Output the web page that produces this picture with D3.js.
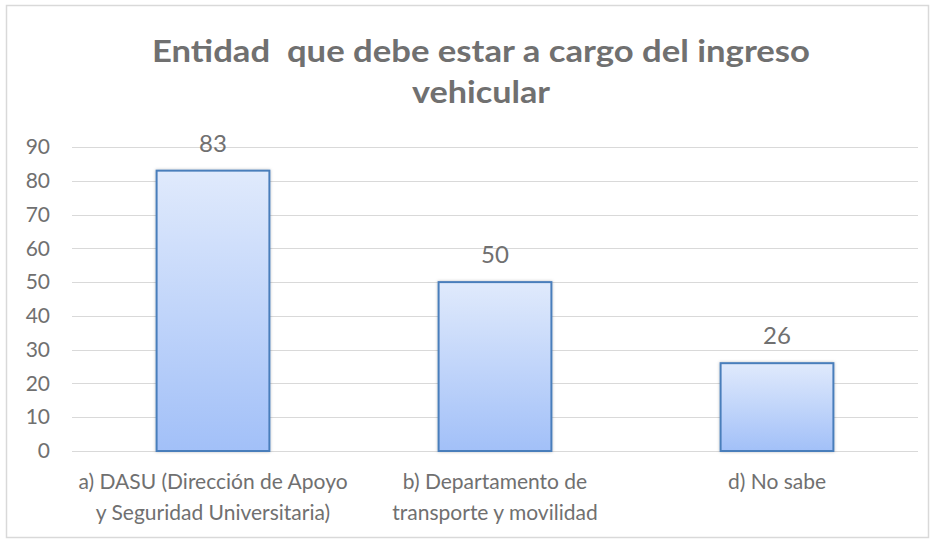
<!DOCTYPE html>
<html>
<head>
<meta charset="utf-8">
<script src="https://cdn.jsdelivr.net/npm/d3@7"></script>
<style>
  body { margin: 0; background: #fff; }
  text { font-family: Lato, "Open Sans", sans-serif; }
</style>
</head>
<body>
<div id="bar-chart"></div>
<script>
const categories = [
    ["a) DASU (Dirección de Apoyo", "y Seguridad Universitaria)"],
    ["b) Departamento de", "transporte y movilidad"],
    ["d) No sabe"]
];
const values = [83, 50, 26];
const yTicks = [0, 10, 20, 30, 40, 50, 60, 70, 80, 90];
const titleLines = ["Entidad  que debe estar a cargo del ingreso", "vehicular"];

const createBarChart = () => {
    const width = 935;
    const height = 542;
    const margin = { top: 147, right: 17, bottom: 91, left: 72 };
    const innerWidth = width - margin.left - margin.right;
    const innerHeight = height - margin.top - margin.bottom;
    const textColor = "#707070";

    const data = categories.map((c, i) => ({ key: i, lines: c, value: values[i] }));

    const svg = d3.select("#bar-chart")
        .append("svg")
        .attr("width", width)
        .attr("height", height);

    // gradient + soft shadow for the bars
    const defs = svg.append("defs");
    const grad = defs.append("linearGradient")
        .attr("id", "barGrad")
        .attr("x1", 0).attr("y1", 0).attr("x2", 0).attr("y2", 1);
    grad.append("stop").attr("offset", "0%").attr("stop-color", "#e0eafc");
    grad.append("stop").attr("offset", "100%").attr("stop-color", "#a2c0f8");
    const shadow = defs.append("filter").attr("id", "shadow")
        .attr("x", "-10%").attr("y", "-10%").attr("width", "120%").attr("height", "120%");
    shadow.append("feDropShadow")
        .attr("dx", 0).attr("dy", 0).attr("stdDeviation", 1.5)
        .attr("flood-color", "#000").attr("flood-opacity", 0.25);

    // chart area border
    svg.append("rect")
        .attr("x", 6.5).attr("y", 5.5)
        .attr("width", 922).attr("height", 532)
        .attr("fill", "none")
        .attr("stroke", "#d9d9d9")
        .attr("stroke-width", 1.5);

    // title (glyphs stretched a bit to match the wide look of the original)
    const titleWidths = [658, 138];
    svg.append("text")
        .attr("text-anchor", "middle")
        .attr("fill", textColor)
        .attr("font-weight", "bold")
        .attr("font-size", "31px")
        .style("white-space", "pre")
        .selectAll("tspan")
        .data(titleLines)
        .join("tspan")
        .attr("x", 481)
        .attr("y", (d, i) => 62 + i * 41)
        .attr("textLength", (d, i) => titleWidths[i])
        .attr("lengthAdjust", "spacingAndGlyphs")
        .text(d => d);

    const inner = svg.append("g")
        .attr("transform", `translate(${margin.left},${margin.top})`);

    const xScale = d3.scaleBand()
        .domain(data.map(d => d.key))
        .range([0, innerWidth])
        .paddingInner(0.6)
        .paddingOuter(0.3);

    const yScale = d3.scaleLinear()
        .domain([0, 90])
        .range([innerHeight, 0]);

    // gridlines
    inner.append("g")
        .selectAll("line")
        .data(yTicks)
        .join("line")
        .attr("x1", 0)
        .attr("x2", innerWidth)
        .attr("y1", d => Math.round(yScale(d)) + 0.5)
        .attr("y2", d => Math.round(yScale(d)) + 0.5)
        .attr("stroke", "#d9d9d9")
        .attr("stroke-width", 1);

    // y axis labels
    const yAxis = d3.axisLeft(yScale).tickValues(yTicks).tickSize(0).tickPadding(22);
    const yG = inner.append("g").call(yAxis);
    yG.select(".domain").remove();
    yG.selectAll("text")
        .attr("fill", textColor)
        .style("font-size", "21px");

    // x axis labels
    const xAxis = d3.axisBottom(xScale).tickSize(0).tickFormat("");
    const xG = inner.append("g")
        .attr("transform", `translate(0,${innerHeight})`)
        .call(xAxis);
    xG.select(".domain").remove();
    xG.selectAll(".tick").each(function(k) {
        const t = d3.select(this).append("text")
            .attr("text-anchor", "middle")
            .attr("fill", textColor)
            .style("font-size", "21px");
        t.selectAll("tspan")
            .data(data[k].lines)
            .join("tspan")
            .attr("x", 0)
            .attr("y", (d, i) => 38 + i * 31)
            .text(d => d);
    });

    // bars
    inner.selectAll("rect.bar")
        .data(data)
        .join("rect")
        .attr("class", "bar")
        .attr("x", d => xScale(d.key))
        .attr("y", d => yScale(d.value))
        .attr("width", xScale.bandwidth())
        .attr("height", d => innerHeight - yScale(d.value))
        .attr("fill", "url(#barGrad)")
        .attr("stroke", "#4a7ebb")
        .attr("stroke-width", 2)
        .attr("filter", "url(#shadow)");

    // value labels
    inner.selectAll("text.val")
        .data(data)
        .join("text")
        .attr("class", "val")
        .attr("x", d => xScale(d.key) + xScale.bandwidth() / 2)
        .attr("y", d => yScale(d.value) - 19)
        .attr("text-anchor", "middle")
        .attr("fill", textColor)
        .style("font-size", "24px")
        .text(d => d.value);
};

createBarChart();
</script>
</body>
</html>
